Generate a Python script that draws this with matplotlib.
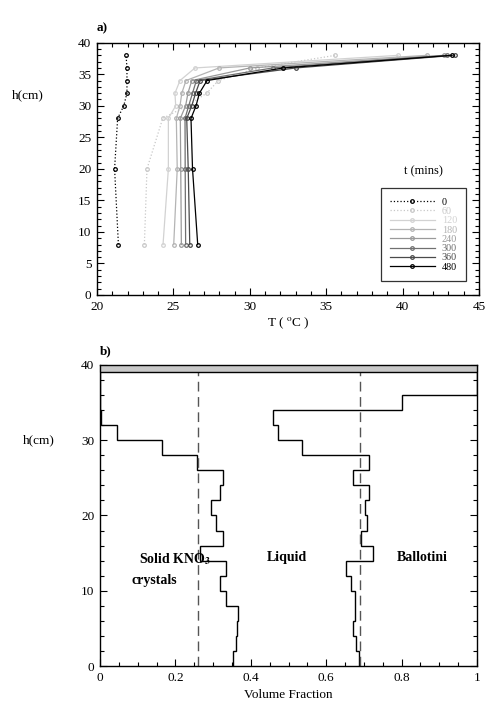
import numpy as np
import matplotlib
matplotlib.use("Agg")
import matplotlib.pyplot as plt
from matplotlib.ticker import MultipleLocator, FuncFormatter

plt.rcParams["font.family"] = ["Liberation Serif", "DejaVu Serif"]
plt.rcParams["mathtext.fontset"] = "stix"

# ---- panel a: temperature profiles ----
heights = [8, 20, 28, 30, 32, 34, 36, 38]
times = ["0", "60", "120", "180", "240", "300", "360", "480"]
T_0 = [21.40, 21.15, 21.35, 21.75, 21.96, 21.96, 21.96, 21.90]
T_60 = [23.10, 23.27, 24.30, 25.90, 27.18, 27.94, 30.50, 35.60]
T_120 = [24.32, 24.67, 24.67, 25.15, 25.10, 25.43, 26.41, 39.70]
T_180 = [25.02, 25.25, 25.19, 25.43, 25.55, 25.82, 27.98, 41.60]
T_240 = [25.52, 25.48, 25.45, 25.80, 25.95, 26.20, 30.00, 42.70]
T_300 = [25.80, 25.77, 25.76, 26.00, 26.25, 26.50, 31.50, 42.90]
T_360 = [26.07, 25.97, 25.87, 26.20, 26.45, 26.75, 33.00, 43.40]
T_480 = [26.59, 26.25, 26.15, 26.48, 26.70, 27.20, 32.20, 43.20]
temps = [T_0, T_60, T_120, T_180, T_240, T_300, T_360, T_480]
colors = ["#000000", "#c8c8c8", "#d2d2d2", "#b4b4b4", "#9a9a9a", "#707070", "#4a4a4a", "#000000"]
styles = [":", ":", "-", "-", "-", "-", "-", "-"]

# ---- panel b: volume fractions ----
solid_edges = [0, 2, 4, 6, 8, 10, 12, 14, 16, 18, 20, 22, 24, 26, 28, 30, 32, 34, 39]
solid_frac = [0.354, 0.360, 0.363, 0.367, 0.333, 0.318, 0.333, 0.265, 0.327, 0.307,
              0.294, 0.318, 0.325, 0.258, 0.164, 0.044, 0.004, 0.0]
ball_edges = [0, 2, 4, 6, 8, 10, 12, 14, 16, 18, 20, 22, 24, 26, 28, 30, 32, 34, 36, 39]
ball_frac = [0.687, 0.678, 0.672, 0.676, 0.676, 0.665, 0.652, 0.725, 0.691, 0.707,
             0.703, 0.714, 0.672, 0.713, 0.535, 0.473, 0.458, 0.80, 1.0]
mean_solid = 0.26
mean_ball = 0.69

fig = plt.figure(figsize=(4.88, 7.12), dpi=100)
ax1 = fig.add_axes([0.1988, 0.5857, 0.7828, 0.3543])
ax2 = fig.add_axes([0.2049, 0.0646, 0.7726, 0.4228])

for T, c, ls, t in zip(temps, colors, styles, times):
    ax1.plot(T, heights, ls=ls, color=c, lw=0.9, marker="o", ms=2.6, mfc="none",
             mec=c, mew=0.9, label=t)
ax1.set_xlim(20, 45); ax1.set_ylim(0, 40)
ax1.xaxis.set_major_locator(MultipleLocator(5)); ax1.xaxis.set_minor_locator(MultipleLocator(1))
ax1.yaxis.set_major_locator(MultipleLocator(5)); ax1.yaxis.set_minor_locator(MultipleLocator(1))
leg = ax1.legend(loc="lower right", bbox_to_anchor=(0.966, 0.056), borderaxespad=0,
                 fontsize=7.3, frameon=True, fancybox=False, edgecolor="black",
                 handlelength=4.4, labelspacing=0.02, handletextpad=0.7, borderpad=0.9,
                 labelcolor="linecolor")
leg.get_frame().set_linewidth(0.9)
ax1.text(0.855, 0.48, "t (mins)", transform=ax1.transAxes, ha="center", fontsize=9)
ax1.set_xlabel(r"T ( $^{\rm o}$C )", fontsize=9.5, labelpad=2)
ax1.text(-0.14, 0.79, "h(cm)", transform=ax1.transAxes, ha="right", va="center", fontsize=9.5)
ax1.text(0.0, 1.045, "a)", transform=ax1.transAxes, fontsize=9.5, fontweight="bold")

ax2.stairs(solid_frac, solid_edges, orientation="horizontal", baseline=None, color="k", lw=1)
ax2.stairs(ball_frac, ball_edges, orientation="horizontal", baseline=None, color="k", lw=1)
ax2.axvline(mean_solid, color="#555555", lw=1, dashes=(7, 4))
ax2.axvline(mean_ball, color="#555555", lw=1, dashes=(7, 4))
ax2.axhspan(39, 40, facecolor="#c8c8c8", edgecolor="black", lw=1, zorder=3)
ax2.set_xlim(0, 1); ax2.set_ylim(0, 40)
ax2.xaxis.set_major_locator(MultipleLocator(0.2)); ax2.xaxis.set_minor_locator(MultipleLocator(0.05))
ax2.yaxis.set_major_locator(MultipleLocator(10)); ax2.yaxis.set_minor_locator(MultipleLocator(2))
ax2.xaxis.set_major_formatter(FuncFormatter(lambda v, p: f"{v:g}"))
ax2.text(0.2, 14.2, r"Solid KNO$_\mathbf{3}$", ha="center", va="center", fontsize=10, fontweight="bold")
ax2.text(0.143, 11.4, "crystals", ha="center", va="center", fontsize=10, fontweight="bold")
ax2.text(0.495, 14.4, "Liquid", ha="center", va="center", fontsize=10, fontweight="bold")
ax2.text(0.855, 14.4, "Ballotini", ha="center", va="center", fontsize=10, fontweight="bold")
ax2.set_xlabel("Volume Fraction", fontsize=9.5, labelpad=4)
ax2.text(-0.12, 0.75, "h(cm)", transform=ax2.transAxes, ha="right", va="center", fontsize=9.5)
ax2.text(0.0, 1.035, "b)", transform=ax2.transAxes, fontsize=9.5, fontweight="bold")

for ax in (ax1, ax2):
    ax.tick_params(which="both", direction="in", top=True, right=True, labelsize=9.5, width=0.8)
    ax.tick_params(which="major", length=5, pad=4)
    ax.tick_params(which="minor", length=3)
    for s in ax.spines.values():
        s.set_linewidth(1.0)

fig.savefig("out.png", dpi=100)
